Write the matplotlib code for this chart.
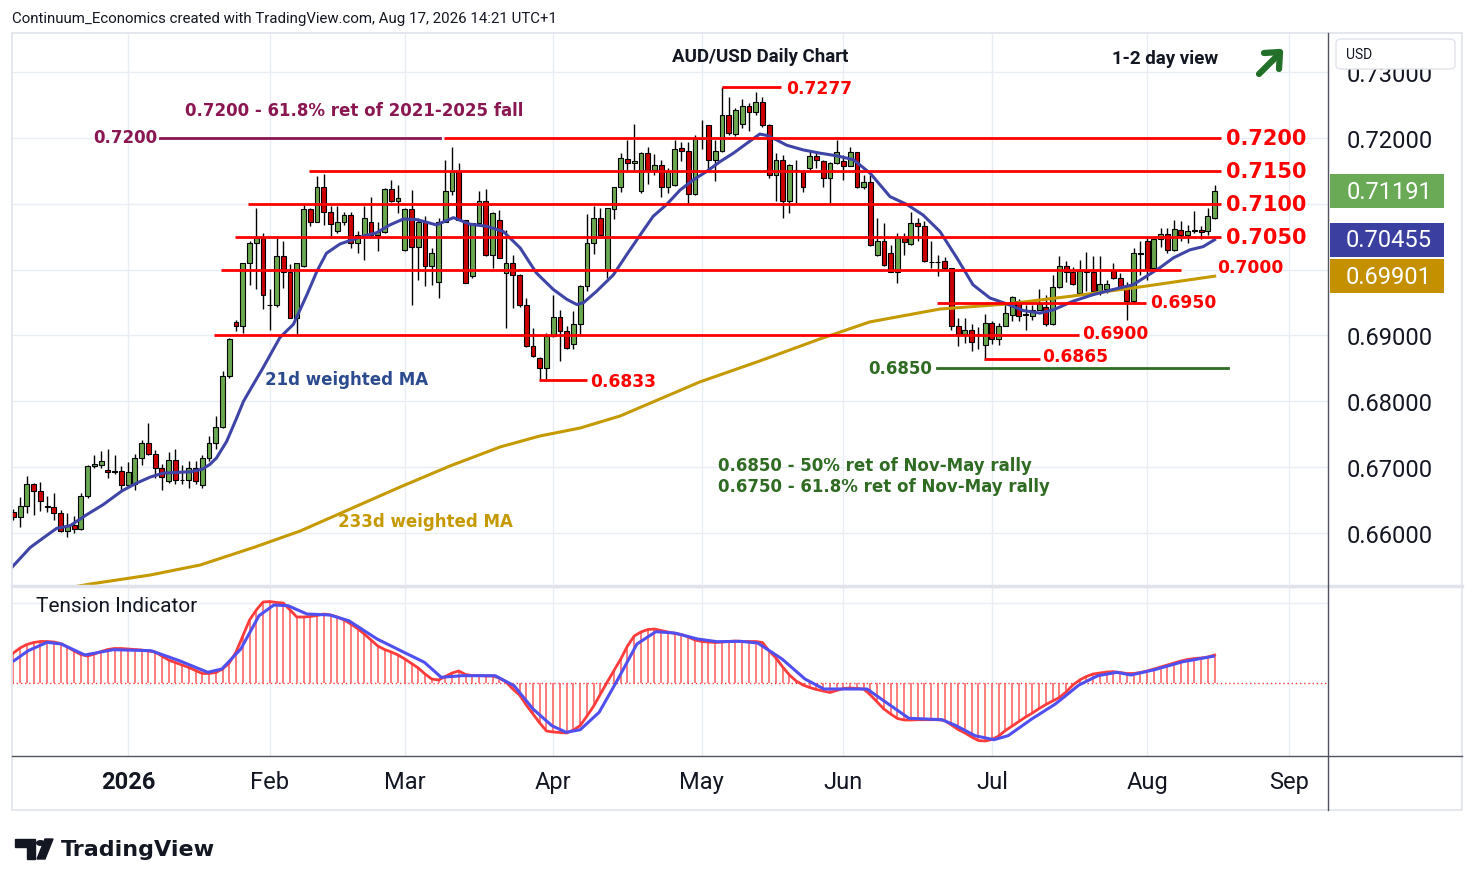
import numpy as np
import pandas as pd
import matplotlib
matplotlib.use('Agg')
import matplotlib.pyplot as plt
from matplotlib.patches import Rectangle, FancyBboxPatch, Polygon, Circle
from matplotlib.lines import Line2D

W, H = 1474, 887

# ---- daily AUD/USD candles, 9 Dec 2025 .. 17 Aug 2026 ----
opens = [
    0.6632, 0.6624, 0.6641, 0.6674, 0.6664, 0.6641, 0.6639, 0.6630, 0.6603, 0.6612,
    0.6606, 0.6656, 0.6702, 0.6704, 0.6696, 0.6694, 0.6694,
    0.6673, 0.6675, 0.6714, 0.6736, 0.6720, 0.6699, 0.6679, 0.6711, 0.6681, 0.6680,
    0.6698, 0.6673, 0.6714, 0.6736, 0.6761, 0.6838, 0.6921, 0.6914, 0.7010, 0.7040,
    0.7048, 0.6947, 0.6946, 0.7020, 0.6996, 0.6927, 0.7005, 0.7092, 0.7073, 0.7126,
    0.7088, 0.7058, 0.7072, 0.7083, 0.7041, 0.7053, 0.7073, 0.7053, 0.7057, 0.7122,
    0.7104, 0.7030, 0.7092, 0.7034, 0.7073, 0.7005, 0.6981, 0.7073, 0.7119, 0.7150,
    0.7076, 0.6990, 0.7071, 0.7104, 0.7022, 0.7076, 0.6995, 0.7010, 0.6992, 0.6946,
    0.6884, 0.6866, 0.6851, 0.6899, 0.6928, 0.6907, 0.6887, 0.6917, 0.6975, 0.7041,
    0.7079, 0.7000, 0.7092, 0.7125, 0.7168, 0.7162, 0.7119, 0.7177, 0.7152, 0.7159,
    0.7126, 0.7129, 0.7185, 0.7181, 0.7115, 0.7200, 0.7220, 0.7167, 0.7181, 0.7235,
    0.7206, 0.7221, 0.7248, 0.7239, 0.7255, 0.7219, 0.7144, 0.7167, 0.7105, 0.7151,
    0.7150, 0.7155, 0.7172, 0.7165, 0.7140, 0.7162, 0.7165, 0.7158, 0.7178, 0.7126,
    0.7133, 0.7022, 0.7043, 0.7026, 0.6997, 0.7048, 0.7039, 0.7071, 0.7066, 0.7012,
    0.7012, 0.7013, 0.7002, 0.6915, 0.6903, 0.6908, 0.6903, 0.6885, 0.6919, 0.6894,
    0.6915, 0.6931, 0.6953, 0.6932, 0.6929, 0.6939, 0.6943, 0.6918, 0.6973, 0.7005,
    0.6997, 0.6965, 0.6998, 0.6997, 0.6967, 0.6970, 0.6998, 0.6988, 0.6975, 0.6953,
    0.7025, 0.7043, 0.7002, 0.7046, 0.7054, 0.7030, 0.7061, 0.7053, 0.7060, 0.7061,
    0.7058, 0.7078]
highs = [
    0.6636, 0.6655, 0.6686, 0.6676, 0.6678, 0.6656, 0.6661, 0.6635, 0.6630, 0.6626,
    0.6660, 0.6704, 0.6719, 0.6724, 0.6728, 0.6718, 0.6702,
    0.6708, 0.6720, 0.6742, 0.6767, 0.6726, 0.6705, 0.6723, 0.6728, 0.6704, 0.6709,
    0.6709, 0.6718, 0.6748, 0.6778, 0.6846, 0.6896, 0.6924, 0.7010, 0.7043, 0.7093,
    0.7056, 0.6970, 0.7048, 0.7043, 0.7008, 0.7010, 0.7098, 0.7093, 0.7142, 0.7146,
    0.7096, 0.7096, 0.7088, 0.7088, 0.7058, 0.7096, 0.7111, 0.7073, 0.7124, 0.7136,
    0.7129, 0.7093, 0.7121, 0.7078, 0.7081, 0.7033, 0.7078, 0.7167, 0.7187, 0.7162,
    0.7076, 0.7071, 0.7119, 0.7123, 0.7087, 0.7091, 0.7061, 0.7023, 0.6993, 0.6957,
    0.6912, 0.6867, 0.6904, 0.6962, 0.6939, 0.6914, 0.6937, 0.6977, 0.7084, 0.7096,
    0.7093, 0.7094, 0.7125, 0.7177, 0.7197, 0.7221, 0.7179, 0.7187, 0.7175, 0.7167,
    0.7154, 0.7197, 0.7194, 0.7194, 0.7204, 0.7227, 0.7220, 0.7197, 0.7277, 0.7263,
    0.7246, 0.7260, 0.7253, 0.7270, 0.7263, 0.7222, 0.7177, 0.7174, 0.7160, 0.7167,
    0.7151, 0.7180, 0.7177, 0.7166, 0.7164, 0.7197, 0.7174, 0.7187, 0.7179, 0.7144,
    0.7144, 0.7078, 0.7071, 0.7038, 0.7056, 0.7056, 0.7087, 0.7079, 0.7074, 0.7043,
    0.7023, 0.7019, 0.7002, 0.6927, 0.6927, 0.6918, 0.6913, 0.6932, 0.6922, 0.6919,
    0.6948, 0.6960, 0.6955, 0.6947, 0.6947, 0.6970, 0.6962, 0.6992, 0.7020, 0.7013,
    0.7004, 0.7015, 0.7027, 0.7020, 0.7020, 0.6985, 0.7010, 0.6995, 0.6982, 0.7033,
    0.7043, 0.7048, 0.7048, 0.7064, 0.7063, 0.7076, 0.7074, 0.7068, 0.7089, 0.7066,
    0.7094, 0.7128]
lows = [
    0.6620, 0.6609, 0.6630, 0.6628, 0.6634, 0.6632, 0.6619, 0.6602, 0.6594, 0.6600,
    0.6605, 0.6653, 0.6698, 0.6698, 0.6684, 0.6689, 0.6663,
    0.6672, 0.6665, 0.6704, 0.6718, 0.6683, 0.6665, 0.6676, 0.6675, 0.6674, 0.6668,
    0.6674, 0.6668, 0.6709, 0.6728, 0.6760, 0.6835, 0.6907, 0.6904, 0.6977, 0.6970,
    0.6941, 0.6909, 0.6944, 0.6972, 0.6926, 0.6899, 0.7004, 0.7066, 0.7072, 0.7068,
    0.7048, 0.7056, 0.7068, 0.7033, 0.7025, 0.7015, 0.7050, 0.7028, 0.7055, 0.7103,
    0.7086, 0.7028, 0.6947, 0.6985, 0.6975, 0.6977, 0.6957, 0.7072, 0.7113, 0.7075,
    0.6979, 0.6987, 0.7068, 0.7020, 0.7003, 0.7017, 0.6912, 0.6942, 0.6944, 0.6883,
    0.6868, 0.6833, 0.6834, 0.6898, 0.6861, 0.6880, 0.6879, 0.6902, 0.6967, 0.7024,
    0.7052, 0.6988, 0.7077, 0.7118, 0.7152, 0.7152, 0.7116, 0.7130, 0.7144, 0.7111,
    0.7116, 0.7127, 0.7165, 0.7101, 0.7114, 0.7184, 0.7152, 0.7135, 0.7178, 0.7205,
    0.7203, 0.7215, 0.7210, 0.7235, 0.7216, 0.7140, 0.7104, 0.7078, 0.7086, 0.7101,
    0.7118, 0.7150, 0.7154, 0.7126, 0.7101, 0.7160, 0.7136, 0.7157, 0.7124, 0.7122,
    0.7036, 0.7021, 0.7006, 0.6996, 0.6980, 0.7022, 0.7038, 0.7043, 0.7012, 0.7003,
    0.6990, 0.7000, 0.6908, 0.6884, 0.6889, 0.6877, 0.6879, 0.6865, 0.6887, 0.6885,
    0.6914, 0.6922, 0.6922, 0.6908, 0.6924, 0.6938, 0.6914, 0.6916, 0.6972, 0.6982,
    0.6977, 0.6964, 0.6967, 0.6966, 0.6962, 0.6965, 0.6986, 0.6972, 0.6923, 0.6950,
    0.6992, 0.6985, 0.6998, 0.7035, 0.7025, 0.7029, 0.7043, 0.7040, 0.7056, 0.7046,
    0.7052, 0.7077]
closes = [
    0.6624, 0.6641, 0.6674, 0.6664, 0.6649, 0.6640, 0.6630, 0.6603, 0.6612, 0.6606,
    0.6656, 0.6702, 0.6705, 0.6709, 0.6692, 0.6693, 0.6673,
    0.6692, 0.6714, 0.6736, 0.6720, 0.6699, 0.6685, 0.6711, 0.6681, 0.6680, 0.6698,
    0.6679, 0.6714, 0.6736, 0.6761, 0.6838, 0.6894, 0.6914, 0.7010, 0.7040, 0.7048,
    0.6961, 0.6946, 0.7020, 0.6996, 0.6927, 0.7010, 0.7092, 0.7073, 0.7126, 0.7088,
    0.7069, 0.7072, 0.7083, 0.7041, 0.7053, 0.7079, 0.7053, 0.7057, 0.7122, 0.7104,
    0.7109, 0.7092, 0.7034, 0.7073, 0.7005, 0.7025, 0.7073, 0.7119, 0.7150, 0.7076,
    0.6980, 0.7071, 0.7104, 0.7022, 0.7086, 0.7018, 0.7010, 0.6992, 0.6946, 0.6884,
    0.6869, 0.6851, 0.6899, 0.6928, 0.6907, 0.6881, 0.6917, 0.6975, 0.7041, 0.7079,
    0.7053, 0.7093, 0.7125, 0.7169, 0.7162, 0.7165, 0.7177, 0.7152, 0.7159, 0.7126,
    0.7150, 0.7184, 0.7180, 0.7115, 0.7200, 0.7198, 0.7167, 0.7181, 0.7235, 0.7207,
    0.7242, 0.7248, 0.7239, 0.7255, 0.7219, 0.7144, 0.7167, 0.7105, 0.7159, 0.7150,
    0.7125, 0.7172, 0.7167, 0.7140, 0.7162, 0.7179, 0.7158, 0.7178, 0.7126, 0.7133,
    0.7037, 0.7043, 0.7007, 0.6997, 0.7048, 0.7042, 0.7071, 0.7066, 0.7013, 0.7011,
    0.7011, 0.7002, 0.6915, 0.6903, 0.6908, 0.6890, 0.6902, 0.6919, 0.6894, 0.6915,
    0.6934, 0.6958, 0.6929, 0.6931, 0.6939, 0.6948, 0.6918, 0.6973, 0.7005, 0.6997,
    0.6978, 0.6998, 0.6997, 0.6967, 0.6978, 0.6978, 0.6987, 0.6973, 0.6953, 0.7025,
    0.7024, 0.7000, 0.7046, 0.7054, 0.7030, 0.7062, 0.7053, 0.7059, 0.7059, 0.7057,
    0.7081, 0.71191]

# 21d weighted MA (bar index, price)
ma21_x = [-17.2, -14.5, -12.5, -10.6, -8.6, -6.1, -3.7, -0.9, 1.3, 3.3, 5.2, 9.2, 11.0,
          12.1, 13.1, 14.6, 16.1, 17.1, 18.8, 20.0, 22.5, 24.5, 26.5, 28.0, 29.4, 31.4,
          33.4, 34.9, 36.8, 38.8, 40.8, 42.8, 45.7, 48.2, 50.7, 53.1, 55.6, 58.1, 60.5,
          63.0, 65.0, 66.5, 67.5, 69.4, 71.9, 73.9, 75.9, 77.8, 79.8, 81.8, 83.7, 85.7,
          87.7, 89.7, 91.7, 93.6, 94.6, 96.1, 97.6, 100.0, 102.5, 105.0, 107.5, 110.0,
          112.9, 115.4, 117.8, 120.3, 122.8, 125.2, 127.7, 130.2, 132.6, 135.1, 137.1,
          140.0, 143.0, 146.0, 148.9, 150.9, 152.9, 154.9, 157.3, 159.3, 161.0]
ma21_y = [0.6548, 0.6578, 0.6593, 0.6607, 0.6611, 0.6628, 0.6643, 0.6664, 0.6676, 0.6685,
          0.6691, 0.6693, 0.6697, 0.6704, 0.6714, 0.6739, 0.6775, 0.6800, 0.6830, 0.6851,
          0.6897, 0.6917, 0.6962, 0.6998, 0.7025, 0.7039, 0.7046, 0.7051, 0.7056, 0.7068,
          0.7077, 0.7076, 0.7068, 0.7079, 0.7069, 0.7066, 0.7058, 0.7033, 0.6995, 0.6970,
          0.6955, 0.6947, 0.6950, 0.6967, 0.6992, 0.7023, 0.7053, 0.7081, 0.7099, 0.7121,
          0.7136, 0.7149, 0.7164, 0.7177, 0.7192, 0.7206, 0.7204, 0.7197, 0.7189, 0.7182,
          0.7177, 0.7173, 0.7167, 0.7146, 0.7111, 0.7099, 0.7083, 0.7058, 0.7018, 0.6977,
          0.6957, 0.6948, 0.6938, 0.6934, 0.6939, 0.6952, 0.6962, 0.6970, 0.6977, 0.6990,
          0.7003, 0.7018, 0.7030, 0.7035, 0.70455]

# 233d weighted MA
ma233_x = [-17.2, -5.6, 3.3, 10.7, 18.8, 25.5, 32.9, 40.3, 47.7, 55.1, 61.0, 67.0, 72.9,
           78.8, 84.7, 93.6, 102.5, 109.9, 120.3, 130.2, 140.0, 149.9, 161.0]
ma233_y = [0.6502, 0.65225, 0.65362, 0.65514, 0.65787, 0.66030, 0.66364, 0.66698, 0.67018,
           0.67306, 0.67473, 0.67595, 0.67777, 0.68035, 0.68294, 0.68613, 0.68947, 0.69206,
           0.69402, 0.69478, 0.69600, 0.69737, 0.69901]

# tension indicator, one value per bar
tension = [
    3.0, 3.5, 3.85, 4.05, 4.15, 4.15, 4.1, 3.95, 3.6, 3.2,
    2.85, 2.7, 2.9, 3.15, 3.35, 3.45, 3.45,
    3.4, 3.35, 3.3, 3.2, 3.1, 2.7, 2.3, 2.05, 1.8, 1.55,
    1.25, 0.95, 0.95, 1.05, 1.4, 2.0, 3.1, 4.7, 6.3, 7.3,
    8.1, 8.15, 8.05, 8.0, 7.3, 6.6, 6.6, 6.65, 6.75, 6.9,
    6.8, 6.6, 6.3, 5.9, 5.45, 4.9, 4.3, 3.7, 3.35, 3.1,
    2.8, 2.4, 1.95, 1.5, 0.9, 0.4, 0.3, 0.65, 1.0, 1.2,
    0.85, 0.75, 0.75, 0.7, 0.7, 0.5, 0.1, -0.6, -1.2, -2.2,
    -3.1, -4.0, -4.8, -4.9, -4.95, -5.0, -4.7, -4.25, -3.3, -2.3,
    -1.1, 0.1, 1.25, 2.4, 3.7, 4.7, 5.1, 5.35, 5.4, 5.25,
    5.1, 4.95, 4.85, 4.6, 4.3, 4.15, 4.1, 4.05, 4.1, 4.15,
    4.2, 4.15, 4.15, 4.15, 4.05, 3.2, 2.5, 1.6, 0.8, 0.2,
    -0.2, -0.45, -0.65, -0.8, -0.95, -0.75, -0.55, -0.5, -0.55, -0.6,
    -1.2, -1.9, -2.6, -3.1, -3.55, -3.7, -3.7, -3.67, -3.67, -3.67,
    -3.67, -3.75, -4.2, -4.65, -5.0, -5.4, -5.75, -5.8, -5.65, -5.3,
    -4.75, -4.3, -3.85, -3.4, -3.0, -2.55, -2.15, -1.8, -1.45, -0.9,
    -0.2, 0.3, 0.65, 0.9, 1.0, 1.1, 1.13, 1.05, 0.95, 0.95,
    1.05, 1.2, 1.4, 1.6, 1.8, 2.0, 2.2, 2.35, 2.45, 2.5,
    2.6, 2.8]

# tension signal line
signal_x = [-16.9, -14.8, -12.0, -9.9, -6.4, -2.2, 3.4, 7.6, 11.8, 13.9, 16.7, 19.4, 21.6,
            23.7, 26.5, 29.9, 32.7, 36.9, 40.4, 43.9, 46.4, 49.5, 54.4, 57.2, 60.0, 62.8,
            64.9, 67.0, 69.8, 72.6, 75.4, 78.2, 81.0, 84.4, 87.3, 90.7, 93.3, 96.9, 100.3,
            103.1, 106.7, 109.5, 112.3, 115.7, 120.6, 122.7, 125.5, 128.3, 130.4, 133.9,
            137.4, 140.9, 143.7, 146.5, 148.6, 152.1, 156.3, 160.8]
signal_y = [2.23, 3.23, 4.07, 3.9, 2.8, 3.33, 3.23, 2.23, 1.07, 1.4, 3.4, 6.73, 7.8,
            7.73, 6.9, 6.8, 6.23, 4.4, 3.23, 2.07, 0.57, 0.73, 0.73, -0.27, -2.6, -4.27,
            -4.93, -4.67, -2.93, 0.4, 3.9, 5.13, 5.0, 4.4, 4.13, 4.17, 4.0, 2.4, 0.4,
            -0.6, -0.6, -0.6, -1.93, -3.53, -3.67, -4.27, -5.27, -5.67, -5.27, -3.6,
            -2.1, -0.2, 0.73, 1.07, 0.8, 1.33, 2.13, 2.67]

# drawn support / resistance levels: price, first bar, last bar
level_price = [0.7200, 0.7150, 0.7100, 0.7050, 0.7000, 0.6950, 0.6900, 0.6865, 0.6833, 0.7277]
level_from = [46.8, 26.8, 17.8, 15.9, 13.8, 119.8, 12.8, 126.8, 60.9, 88.0]
level_to = [162.0, 162.0, 162.0, 162.0, 156.0, 150.9, 140.9, 135.1, 68.0, 96.8]

RED = '#ff0000'
GREEN_C = '#6aa84f'
RED_C = '#cc0000'
BLUE_MA = '#3f45a6'
GOLD = '#c49a00'
PURPLE = '#8a1652'
DKGREEN = '#2f6b22'
GRID = '#e8edf3'
TXT = '#131722'
UI = 'Roboto'


def fx(px):
    return px / W


def fy(py):
    return 1 - py / H


# bar index 0 = 2 Jan 2026, first session of the year
dates = pd.bdate_range('2025-12-09', '2026-09-30')
dates = dates[dates != pd.Timestamp('2026-01-01')]
first = int(np.where(dates == pd.Timestamp('2026-01-02'))[0][0])
idx = np.arange(len(dates)) - first
bars = idx[:len(closes)]

month_pos, month_lab = [], []
for m in range(1, 10):
    sel = np.where((dates.year == 2026) & (dates.month == m))[0]
    month_pos.append(idx[sel[0]])
    month_lab.append('2026' if m == 1 else dates[sel[0]].strftime('%b'))

fig = plt.figure(figsize=(W / 100, H / 100), dpi=100)
fig.patch.set_facecolor('white')

ax = fig.add_axes([fx(12), fy(586), (1328 - 12) / W, (586 - 34) / H])
ax2 = fig.add_axes([fx(12), fy(757), (1328 - 12) / W, (757 - 588) / H])

XMIN, XMAX = -17.2, 177.8
PTOP, PBOT = 0.73595, 0.65210

# ---- main price pane ----
ax.set_xlim(XMIN, XMAX)
ax.set_ylim(PBOT, PTOP)
for s in ax.spines.values():
    s.set_visible(False)
ax.set_xticks(month_pos)
ax.tick_params(axis='x', length=0, labelbottom=False)
ax.yaxis.tick_right()
yt = np.round(np.arange(0.66, 0.7301, 0.01), 2)
ax.set_yticks(yt)
# 0.70 and 0.71 sit under the last-value boxes, so they stay blank
ax.set_yticklabels(['' if v in (0.70, 0.71) else '%.5f' % v for v in yt],
                   fontfamily=UI)
ax.tick_params(axis='y', length=0, pad=13.5, labelsize=17, labelcolor=TXT)
ax.grid(True, color=GRID, lw=1)
ax.set_axisbelow(True)

o = np.array(opens)
c = np.array(closes)
ax.vlines(bars, lows, highs, color='black', lw=1, zorder=2)
for x, op, cl in zip(bars, o, c):
    if abs(cl - op) < 0.00005:
        ax.plot([x - 0.36, x + 0.36], [cl, cl], color='black', lw=1.3, zorder=3)
        continue
    col = GREEN_C if cl > op else RED_C
    ax.add_patch(Rectangle((x - 0.36, min(op, cl)), 0.72, abs(cl - op),
                           facecolor=col, edgecolor='black', lw=0.8, zorder=3))

ax.plot(ma233_x, ma233_y, color=GOLD, lw=2.2, zorder=4)
ax.plot(ma21_x, ma21_y, color=BLUE_MA, lw=2.2, zorder=4)

for p, a, b in zip(level_price, level_from, level_to):
    ax.plot([a, b], [p, p], color=RED, lw=2, zorder=5, solid_capstyle='butt')
ax.plot([119.8, 163.0], [0.6850, 0.6850], color=DKGREEN, lw=2, zorder=5)
ax.plot([4.7, 46.2], [0.7200, 0.7200], color=PURPLE, lw=2, zorder=5)

big = dict(color=RED, fontsize=15, fontweight='bold', va='center', ha='left', zorder=6)
for p in [0.7200, 0.7150, 0.7100, 0.7050]:
    ax.text(162.7, p, '%.4f' % p, **big)
small = dict(color=RED, fontsize=12.3, fontweight='bold', va='center', ha='left', zorder=6)
ax.text(161.3, 0.70045, '0.7000', **small)
ax.text(151.4, 0.69515, '0.6950', **small)
ax.text(141.3, 0.69035, '0.6900', **small)
ax.text(135.4, 0.68688, '0.6865', **small)
ax.text(68.4, 0.68310, '0.6833', **small)
ax.text(97.5, 0.72760, '0.7277', **small)

ann = dict(fontsize=12, fontweight='bold', va='center', zorder=6)
ax.text(119.1, 0.68506, '0.6850', color=DKGREEN, ha='right', **ann)
ax.text(4.3, 0.72015, '0.7200', color=PURPLE, ha='right', **ann)
ax.text(8.4, 0.72425, '0.7200 - 61.8% ret of 2021-2025 fall', color=PURPLE, ha='left', **ann)
ax.text(20.3, 0.68339, '21d weighted MA', color='#2c4b8e', ha='left', **ann)
ax.text(31.1, 0.66182, '233d weighted MA', color=GOLD, ha='left', **ann)
ax.text(87.4, 0.67033, '0.6850 - 50% ret of Nov-May rally', color=DKGREEN, ha='left', **ann)
ax.text(87.4, 0.66713, '0.6750 - 61.8% ret of Nov-May rally', color=DKGREEN, ha='left', **ann)

# ---- tension indicator pane ----
ax2.set_xlim(XMIN, XMAX)
ax2.set_ylim(-7.3, 9.6)
for s in ax2.spines.values():
    s.set_visible(False)
ax2.set_xticks(month_pos)
ax2.set_xticklabels(month_lab, fontfamily=UI)
ax2.tick_params(axis='x', length=0, pad=10, labelsize=17, labelcolor=TXT)
ax2.get_xticklabels()[0].set_fontweight('bold')
ax2.set_yticks([])
ax2.grid(True, axis='x', color=GRID, lw=1)
ax2.axhline(8.0, color=GRID, lw=1, zorder=0)
ax2.set_axisbelow(True)

ax2.axhline(0, color='#ff3b3b', lw=1, ls=(0, (1, 2)), zorder=1)
ax2.vlines(bars, 0, tension, color='#ff5a5a', lw=1.1, zorder=2)
ax2.plot(bars, tension, color='#ff3b3b', lw=2, zorder=3)
ax2.plot(signal_x, signal_y, color='#5050f0', lw=2.2, zorder=4)
ax2.text(0.0182, 0.89, 'Tension Indicator', transform=ax2.transAxes, fontsize=15,
         fontfamily=UI, color=TXT, va='center', ha='left')

# ---- frame, separators, price-scale furniture ----
def fline(x0, y0, x1, y1, **kw):
    fig.add_artist(Line2D([fx(x0), fx(x1)], [fy(y0), fy(y1)], transform=fig.transFigure, **kw))


fline(12, 586.5, 1462, 586.5, color='#e0e3eb', lw=2.5)
fline(1328, 34, 1328, 811, color='#50535e', lw=1)
fline(12, 757, 1462, 757, color='#50535e', lw=1)
fig.add_artist(Rectangle((fx(12), fy(811)), (1462 - 12) / W, (811 - 34) / H,
                         transform=fig.transFigure, fill=False, edgecolor='#e0e3eb', lw=1.2))

fig.add_artist(FancyBboxPatch((fx(1336), fy(70)), (1455 - 1336) / W, (70 - 40) / H,
                              boxstyle='round,pad=0,rounding_size=0.004',
                              transform=fig.transFigure, facecolor='white',
                              edgecolor='#e0e3eb', lw=1, zorder=5))
fig.text(fx(1346), fy(55), 'USD', fontsize=10, fontfamily=UI, color=TXT,
         va='center', ha='left', zorder=6)

fig.canvas.draw()
for val, col in [(closes[-1], '#6aaa56'), (ma21_y[-1], '#3a3fa0'), (ma233_y[-1], '#c49000')]:
    ydisp = ax.transData.transform((0, val))[1] / H
    fig.add_artist(Rectangle((fx(1330), ydisp - 17 / H), 114 / W, 34 / H,
                             transform=fig.transFigure, facecolor=col, edgecolor='none', zorder=5))
    fig.text(fx(1389), ydisp, '%.5f' % val, fontsize=17, fontfamily=UI, color='white',
             ha='center', va='center', zorder=6)

# ---- header, title, view arrow ----
fig.text(fx(12), fy(19), 'Continuum_Economics created with TradingView.com, Aug 17, 2026 14:21 UTC+1',
         fontsize=10.8, fontfamily=UI, color=TXT, va='center', ha='left')
fig.text(fx(760), fy(57), 'AUD/USD Daily Chart', fontsize=13.5, fontfamily=UI,
         fontweight='bold', color=TXT, ha='center', va='center')
fig.text(fx(1165), fy(59), '1-2 day view', fontsize=13.5, fontfamily=UI,
         fontweight='bold', color=TXT, ha='center', va='center')
fig.add_artist(Line2D([fx(1259), fx(1279)], [fy(75), fy(55)], transform=fig.transFigure,
                      color='#23702a', lw=4.5, solid_capstyle='round'))
fig.add_artist(Line2D([fx(1264), fx(1280), fx(1279)], [fy(54), fy(53), fy(70)],
                      transform=fig.transFigure, color='#23702a', lw=4.5,
                      solid_capstyle='round', solid_joinstyle='round'))

# ---- TradingView logo ----
logo = '#131722'
fig.add_artist(Polygon([(fx(15), fy(840)), (fx(35), fy(840)), (fx(35), fy(860)),
                        (fx(27), fy(860)), (fx(27), fy(848)), (fx(15), fy(848))],
                       closed=True, transform=fig.transFigure, color=logo))
fig.add_artist(Circle((fx(40.5), fy(844)), 3.8 / W, transform=fig.transFigure, color=logo))
fig.add_artist(Polygon([(fx(45), fy(840)), (fx(53), fy(840)), (fx(45), fy(860)), (fx(37), fy(860))],
                       closed=True, transform=fig.transFigure, color=logo))
fig.text(fx(61), fy(850), 'TradingView', fontsize=16, fontweight='bold', color=logo,
         va='center', ha='left')

fig.savefig('out.png', dpi=100, facecolor='white')
